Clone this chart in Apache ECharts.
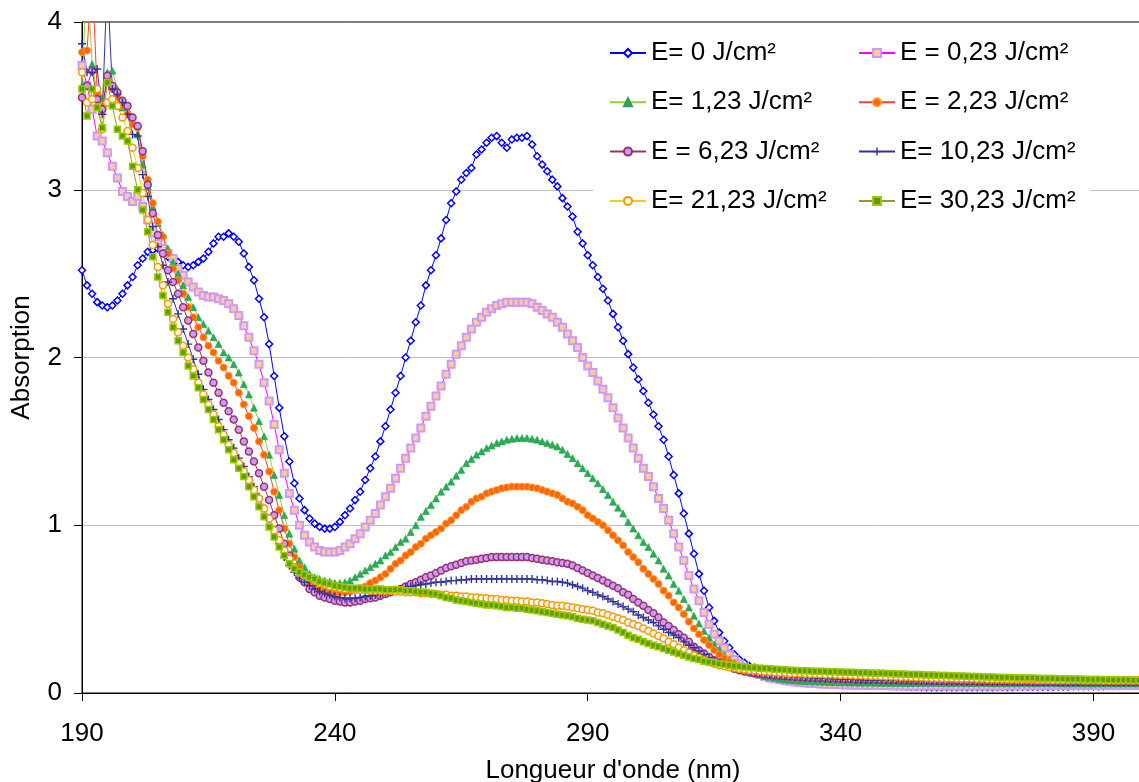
<!DOCTYPE html>
<html><head><meta charset="utf-8">
<script src="https://cdn.jsdelivr.net/npm/echarts@6/dist/echarts.min.js"></script>
<style>html,body{margin:0;padding:0;background:#fff}#chart{width:1139px;height:782px}</style>
</head><body><div id="chart"></div>
<script>
const START_NM = 190;
const X_TICKS = [190, 240, 290, 340, 390];
const Y_TICKS = [0, 1, 2, 3, 4];
const NAMES = ["E= 0 J/cm²", "E = 0,23 J/cm²", "E= 1,23 J/cm²", "E = 2,23 J/cm²",
               "E = 6,23 J/cm²", "E= 10,23 J/cm²", "E= 21,23 J/cm²", "E= 30,23 J/cm²"];

const E0 = [2.52,2.43,2.38,2.33,2.31,2.30,2.31,2.34,2.38,2.43,
 2.48,2.55,2.59,2.63,2.64,2.65,2.63,2.60,2.58,2.57,
 2.55,2.54,2.55,2.57,2.59,2.63,2.68,2.72,2.72,2.74,
 2.72,2.69,2.62,2.54,2.46,2.35,2.24,2.08,1.89,1.70,
 1.53,1.38,1.25,1.16,1.09,1.04,1.01,0.99,0.98,0.98,
 0.99,1.02,1.06,1.10,1.15,1.20,1.27,1.34,1.41,1.50,
 1.59,1.69,1.79,1.89,2.00,2.10,2.21,2.31,2.43,2.52,
 2.61,2.71,2.82,2.92,2.99,3.06,3.10,3.13,3.21,3.24,
 3.28,3.31,3.32,3.28,3.25,3.30,3.31,3.31,3.32,3.27,
 3.20,3.15,3.11,3.06,3.02,2.95,2.90,2.84,2.75,2.68,
 2.61,2.55,2.48,2.41,2.34,2.26,2.18,2.10,2.02,1.94,
 1.87,1.80,1.73,1.66,1.59,1.51,1.41,1.30,1.19,1.07,
 0.95,0.83,0.71,0.61,0.51,0.43,0.36,0.31,0.27,0.23,
 0.20,0.18,0.16,0.15,0.14,0.13,0.12,0.115,0.11,0.10,
 0.095,0.09,0.085,0.08,0.075,0.07,0.066,0.062,0.059,0.056,
 0.054,0.052,0.05,0.049,0.048,0.047,0.046,0.045,0.044,0.043,
 0.042,0.041,0.04,0.039,0.038,0.037,0.036,0.035,0.035,0.034,
 0.034,0.034,0.034,0.034,0.034,0.034,0.035,0.035,0.035,0.035,
 0.035,0.036,0.036,0.036,0.036,0.037,0.037,0.037,0.037,0.038,
 0.038,0.038,0.038,0.039,0.039,0.039,0.04,0.04,0.04,0.04,
 0.041,0.041,0.041,0.042,0.042,0.042,0.043,0.043,0.043,0.044,
 0.044];

const E023 = [3.74,3.62,3.48,3.32,3.29,3.22,3.14,3.07,2.99,2.96,
 2.93,2.96,2.90,2.82,2.74,2.68,2.65,2.62,2.59,2.53,
 2.49,2.45,2.42,2.39,2.37,2.36,2.36,2.35,2.34,2.32,
 2.29,2.25,2.19,2.12,2.04,1.96,1.85,1.74,1.60,1.45,
 1.31,1.19,1.09,1.00,0.94,0.90,0.87,0.85,0.84,0.84,
 0.84,0.85,0.87,0.89,0.92,0.95,0.99,1.03,1.07,1.12,
 1.17,1.22,1.28,1.34,1.40,1.46,1.52,1.58,1.65,1.71,
 1.77,1.83,1.90,1.96,2.02,2.07,2.12,2.17,2.21,2.24,
 2.27,2.29,2.31,2.32,2.33,2.33,2.33,2.33,2.33,2.32,
 2.30,2.28,2.26,2.24,2.21,2.18,2.14,2.10,2.06,2.00,
 1.95,1.91,1.86,1.81,1.76,1.70,1.64,1.58,1.52,1.46,
 1.40,1.34,1.29,1.23,1.16,1.10,1.03,0.95,0.87,0.79,
 0.70,0.62,0.55,0.48,0.41,0.35,0.31,0.27,0.23,0.20,
 0.175,0.155,0.135,0.12,0.11,0.10,0.09,0.085,0.08,0.075,
 0.07,0.066,0.063,0.06,0.058,0.056,0.054,0.052,0.051,0.05,
 0.049,0.048,0.047,0.046,0.046,0.045,0.045,0.044,0.044,0.044,
 0.043,0.043,0.043,0.042,0.042,0.042,0.042,0.042,0.042,0.042,
 0.042,0.042,0.042,0.042,0.042,0.042,0.042,0.042,0.042,0.042,
 0.042,0.042,0.042,0.043,0.043,0.043,0.043,0.043,0.043,0.043,
 0.044,0.044,0.044,0.044,0.044,0.044,0.044,0.044,0.044,0.044,
 0.045,0.045,0.045,0.045,0.045,0.045,0.045,0.045,0.045,0.045,
 0.045];

const E123 = [3.62,4.30,3.75,3.58,3.55,3.70,3.71,3.60,3.49,3.45,
 3.40,3.33,3.15,3.02,2.90,2.80,2.73,2.65,2.57,2.50,
 2.43,2.36,2.30,2.24,2.20,2.16,2.12,2.08,2.03,2.00,
 1.96,1.91,1.84,1.78,1.70,1.62,1.53,1.42,1.30,1.18,
 1.06,0.95,0.86,0.79,0.75,0.71,0.69,0.68,0.67,0.665,
 0.655,0.655,0.66,0.67,0.69,0.71,0.73,0.75,0.77,0.79,
 0.82,0.84,0.87,0.90,0.92,0.96,1.00,1.05,1.085,1.12,
 1.16,1.20,1.23,1.26,1.295,1.33,1.37,1.395,1.42,1.44,
 1.46,1.475,1.49,1.50,1.51,1.515,1.52,1.52,1.52,1.515,
 1.51,1.50,1.49,1.48,1.47,1.45,1.425,1.40,1.37,1.34,
 1.31,1.28,1.25,1.215,1.18,1.14,1.105,1.07,1.02,0.98,
 0.94,0.90,0.87,0.83,0.79,0.74,0.70,0.65,0.61,0.56,
 0.51,0.46,0.415,0.37,0.33,0.29,0.26,0.225,0.20,0.18,
 0.16,0.145,0.13,0.12,0.11,0.10,0.095,0.09,0.085,0.08,
 0.077,0.075,0.073,0.071,0.07,0.069,0.068,0.067,0.066,0.065,
 0.064,0.064,0.063,0.063,0.062,0.062,0.062,0.061,0.061,0.061,
 0.06,0.06,0.06,0.06,0.06,0.06,0.06,0.06,0.06,0.06,
 0.059,0.059,0.059,0.059,0.059,0.059,0.059,0.059,0.059,0.059,
 0.058,0.058,0.058,0.058,0.058,0.058,0.058,0.058,0.058,0.058,
 0.058,0.058,0.058,0.058,0.057,0.057,0.057,0.057,0.057,0.057,
 0.057,0.057,0.057,0.057,0.057,0.057,0.057,0.057,0.057,0.057,
 0.057];

const E223 = [3.82,3.83,4.30,3.58,3.50,3.64,3.60,3.55,3.50,3.45,
 3.39,3.37,3.20,3.06,2.92,2.81,2.72,2.62,2.53,2.46,
 2.38,2.30,2.24,2.18,2.12,2.07,2.03,1.98,1.94,1.89,
 1.85,1.79,1.72,1.65,1.58,1.50,1.42,1.32,1.20,1.09,
 0.98,0.89,0.81,0.75,0.70,0.66,0.64,0.62,0.61,0.60,
 0.60,0.60,0.60,0.605,0.615,0.625,0.635,0.655,0.67,0.69,
 0.71,0.74,0.77,0.79,0.82,0.84,0.87,0.89,0.92,0.94,
 0.96,0.98,1.01,1.03,1.06,1.09,1.11,1.14,1.16,1.17,
 1.19,1.20,1.21,1.22,1.225,1.23,1.23,1.23,1.23,1.225,
 1.22,1.21,1.20,1.19,1.18,1.16,1.14,1.13,1.11,1.09,
 1.06,1.04,1.02,1.00,0.97,0.94,0.91,0.88,0.84,0.81,
 0.78,0.74,0.71,0.68,0.65,0.61,0.58,0.54,0.51,0.47,
 0.425,0.385,0.35,0.316,0.286,0.256,0.23,0.207,0.187,0.17,
 0.155,0.145,0.135,0.127,0.12,0.115,0.11,0.106,0.103,0.10,
 0.098,0.096,0.095,0.094,0.093,0.092,0.091,0.09,0.09,0.089,
 0.088,0.088,0.087,0.087,0.086,0.086,0.086,0.085,0.085,0.085,
 0.084,0.084,0.084,0.084,0.083,0.083,0.083,0.083,0.083,0.082,
 0.082,0.082,0.082,0.082,0.082,0.081,0.081,0.081,0.081,0.081,
 0.081,0.081,0.081,0.08,0.08,0.08,0.08,0.08,0.08,0.08,
 0.08,0.08,0.08,0.08,0.08,0.08,0.08,0.08,0.08,0.08,
 0.08,0.08,0.08,0.08,0.08,0.08,0.08,0.08,0.08,0.08,
 0.08];

const E623 = [3.55,3.62,3.71,3.54,3.48,3.68,3.62,3.58,3.53,3.50,
 3.43,3.38,3.23,3.03,2.86,2.73,2.62,2.52,2.45,2.38,
 2.30,2.22,2.14,2.06,1.98,1.91,1.85,1.79,1.73,1.68,
 1.63,1.57,1.50,1.44,1.38,1.31,1.23,1.15,1.06,0.98,
 0.89,0.82,0.75,0.69,0.66,0.62,0.60,0.58,0.57,0.56,
 0.55,0.545,0.54,0.54,0.545,0.55,0.56,0.565,0.57,0.58,
 0.59,0.60,0.61,0.62,0.635,0.65,0.66,0.675,0.69,0.70,
 0.715,0.73,0.745,0.755,0.765,0.775,0.785,0.79,0.795,0.80,
 0.805,0.81,0.81,0.81,0.81,0.81,0.81,0.81,0.81,0.805,
 0.80,0.795,0.79,0.785,0.78,0.775,0.77,0.76,0.745,0.73,
 0.715,0.70,0.685,0.67,0.655,0.64,0.625,0.60,0.585,0.56,
 0.54,0.52,0.495,0.475,0.45,0.42,0.40,0.375,0.35,0.33,
 0.305,0.275,0.255,0.235,0.215,0.195,0.18,0.165,0.155,0.145,
 0.135,0.128,0.122,0.117,0.113,0.11,0.107,0.104,0.102,0.10,
 0.098,0.096,0.094,0.092,0.091,0.09,0.089,0.088,0.087,0.086,
 0.085,0.084,0.083,0.082,0.081,0.08,0.079,0.079,0.078,0.078,
 0.077,0.077,0.076,0.076,0.075,0.075,0.074,0.074,0.073,0.073,
 0.072,0.072,0.071,0.071,0.07,0.07,0.07,0.069,0.069,0.069,
 0.068,0.068,0.068,0.068,0.067,0.067,0.067,0.067,0.066,0.066,
 0.066,0.066,0.066,0.065,0.065,0.065,0.065,0.065,0.065,0.065,
 0.065,0.065,0.065,0.065,0.065,0.065,0.065,0.065,0.065,0.065,
 0.065];

const E1023 = [3.87,3.70,3.70,3.72,3.45,4.25,3.60,3.57,3.52,3.45,
 3.33,3.32,3.09,2.96,2.78,2.66,2.55,2.45,2.35,2.26,
 2.17,2.08,1.99,1.90,1.81,1.75,1.69,1.63,1.57,1.51,
 1.46,1.40,1.35,1.29,1.23,1.17,1.10,1.04,0.97,0.89,
 0.81,0.76,0.72,0.685,0.66,0.64,0.62,0.605,0.595,0.585,
 0.575,0.57,0.565,0.565,0.565,0.57,0.575,0.58,0.585,0.59,
 0.60,0.605,0.615,0.62,0.63,0.635,0.64,0.645,0.65,0.655,
 0.66,0.66,0.665,0.67,0.67,0.675,0.675,0.68,0.68,0.68,
 0.68,0.68,0.68,0.68,0.68,0.68,0.68,0.68,0.68,0.68,
 0.675,0.675,0.67,0.665,0.665,0.66,0.655,0.645,0.635,0.625,
 0.61,0.60,0.585,0.575,0.56,0.545,0.53,0.515,0.50,0.485,
 0.465,0.45,0.435,0.42,0.40,0.38,0.36,0.345,0.33,0.305,
 0.285,0.27,0.25,0.23,0.21,0.19,0.178,0.168,0.16,0.152,
 0.145,0.137,0.13,0.124,0.119,0.115,0.111,0.108,0.105,0.102,
 0.10,0.097,0.095,0.093,0.091,0.09,0.088,0.087,0.086,0.085,
 0.083,0.082,0.081,0.08,0.079,0.078,0.077,0.077,0.076,0.076,
 0.075,0.075,0.074,0.074,0.073,0.073,0.072,0.072,0.071,0.071,
 0.07,0.07,0.069,0.069,0.068,0.068,0.068,0.067,0.067,0.067,
 0.066,0.066,0.066,0.066,0.065,0.065,0.065,0.065,0.064,0.064,
 0.064,0.064,0.064,0.063,0.063,0.063,0.063,0.063,0.063,0.063,
 0.063,0.063,0.063,0.063,0.063,0.063,0.063,0.063,0.063,0.063,
 0.063];

const E2123 = [3.70,3.52,3.54,3.60,3.36,3.52,3.54,3.50,3.43,3.35,
 3.25,3.13,2.98,2.82,2.67,2.54,2.43,2.32,2.23,2.15,
 2.07,2.00,1.93,1.85,1.78,1.72,1.66,1.59,1.54,1.48,
 1.43,1.37,1.32,1.27,1.21,1.16,1.10,1.04,0.97,0.91,
 0.85,0.80,0.75,0.72,0.70,0.69,0.67,0.655,0.645,0.635,
 0.63,0.625,0.62,0.62,0.615,0.615,0.615,0.61,0.61,0.61,
 0.61,0.61,0.605,0.605,0.60,0.60,0.60,0.595,0.595,0.59,
 0.59,0.585,0.585,0.58,0.58,0.575,0.575,0.57,0.57,0.565,
 0.565,0.56,0.56,0.555,0.555,0.55,0.55,0.545,0.545,0.54,
 0.54,0.535,0.53,0.525,0.52,0.52,0.515,0.51,0.505,0.50,
 0.495,0.49,0.48,0.475,0.465,0.455,0.445,0.435,0.42,0.41,
 0.40,0.385,0.37,0.355,0.34,0.325,0.305,0.29,0.27,0.255,
 0.24,0.225,0.21,0.195,0.185,0.175,0.165,0.16,0.155,0.15,
 0.145,0.14,0.137,0.134,0.131,0.128,0.126,0.124,0.122,0.12,
 0.118,0.117,0.116,0.115,0.114,0.113,0.112,0.111,0.11,0.109,
 0.108,0.107,0.106,0.105,0.104,0.103,0.102,0.101,0.10,0.099,
 0.098,0.097,0.096,0.095,0.094,0.093,0.092,0.091,0.09,0.09,
 0.089,0.088,0.088,0.087,0.087,0.086,0.086,0.085,0.085,0.084,
 0.084,0.083,0.083,0.082,0.082,0.081,0.081,0.08,0.08,0.079,
 0.079,0.079,0.078,0.078,0.078,0.077,0.077,0.077,0.076,0.076,
 0.076,0.076,0.075,0.075,0.075,0.075,0.075,0.075,0.075,0.075,
 0.075];

const E3023 = [3.60,3.44,3.60,3.49,3.37,3.64,3.50,3.36,3.32,3.29,
 3.14,3.00,2.88,2.75,2.60,2.48,2.37,2.27,2.18,2.10,
 2.03,1.95,1.89,1.82,1.75,1.69,1.63,1.57,1.51,1.45,
 1.39,1.34,1.29,1.23,1.17,1.11,1.05,0.99,0.93,0.87,
 0.82,0.77,0.74,0.72,0.705,0.69,0.68,0.665,0.655,0.65,
 0.64,0.635,0.63,0.625,0.625,0.625,0.62,0.62,0.62,0.62,
 0.615,0.615,0.615,0.615,0.61,0.61,0.605,0.60,0.60,0.595,
 0.59,0.58,0.57,0.565,0.555,0.55,0.545,0.54,0.535,0.53,
 0.525,0.525,0.52,0.515,0.51,0.51,0.505,0.505,0.50,0.495,
 0.49,0.485,0.48,0.475,0.47,0.465,0.46,0.455,0.445,0.44,
 0.435,0.43,0.42,0.41,0.40,0.39,0.375,0.36,0.345,0.33,
 0.32,0.305,0.295,0.285,0.275,0.265,0.255,0.245,0.235,0.225,
 0.215,0.205,0.20,0.19,0.185,0.18,0.175,0.17,0.165,0.16,
 0.158,0.155,0.152,0.15,0.148,0.146,0.144,0.142,0.14,0.138,
 0.136,0.134,0.133,0.132,0.131,0.13,0.129,0.128,0.127,0.126,
 0.125,0.124,0.123,0.122,0.121,0.12,0.119,0.118,0.117,0.116,
 0.115,0.114,0.113,0.112,0.111,0.11,0.109,0.108,0.107,0.106,
 0.105,0.104,0.103,0.102,0.101,0.10,0.099,0.098,0.097,0.096,
 0.095,0.094,0.093,0.092,0.091,0.09,0.09,0.089,0.089,0.088,
 0.087,0.087,0.086,0.085,0.085,0.084,0.083,0.083,0.082,0.081,
 0.081,0.08,0.079,0.079,0.078,0.078,0.077,0.077,0.076,0.076,
 0.075];

const WAVELENGTHS = E0.map((_, i) => START_NM + i);
const FONT = '"Liberation Sans", Arial, sans-serif';
const FS = 26;
const PLUS = 'path://M3.3,0H4.7V3.3H8V4.7H4.7V8H3.3V4.7H0V3.3H3.3Z';

function mk(name, vals, line, symbol, size, itemStyle) {
  return {
    name: name, type: 'line',
    data: vals.map((v, i) => [WAVELENGTHS[i], v]),
    symbol: symbol, symbolSize: size, showSymbol: true,
    lineStyle: { color: line, width: 1 },
    itemStyle: itemStyle,
    clip: true, animation: false, emphasis: { disabled: true }
  };
}

const series = [
  mk(NAMES[0], E0, '#0000FF', 'diamond', 7, { color: '#FFFFFF', borderColor: '#0000FF', borderWidth: 1.5 }),
  mk(NAMES[1], E023, '#FF00FF', 'rect', 7, { color: '#FFCC99', borderColor: '#CC99FF', borderWidth: 2 }),
  mk(NAMES[2], E123, '#99CC33', 'triangle', 7, { color: '#22B14C', borderColor: '#339966', borderWidth: 0.6 }),
  mk(NAMES[3], E223, '#FF3B3B', 'circle', 7, { color: '#FF6600', borderColor: '#FF9933', borderWidth: 1 }),
  mk(NAMES[4], E623, '#993366', 'circle', 7, { color: '#CC99FF', borderColor: '#993366', borderWidth: 1.5 }),
  mk(NAMES[5], E1023, '#333399', PLUS, 8, { color: '#333399' }),
  mk(NAMES[6], E2123, '#FFCC00', 'circle', 7, { color: '#FFFFFF', borderColor: '#FF9900', borderWidth: 1.5 }),
  mk(NAMES[7], E3023, '#999933', 'rect', 6, { color: '#669900', borderColor: '#99CC00', borderWidth: 1.5 })
];

const legendCommon = {
  orient: 'vertical', itemWidth: 36, itemHeight: 10, itemGap: 23.3,
  textStyle: { fontSize: FS, fontFamily: FONT, color: '#000', lineHeight: 26 },
  padding: 0, selectedMode: false
};

const chart = echarts.init(document.getElementById('chart'), null, { renderer: 'canvas' });
chart.setOption({
  animation: false,
  backgroundColor: '#fff',
  textStyle: { fontFamily: FONT },
  grid: { left: 82, right: -5, top: 22, bottom: 89, containLabel: false, outerBoundsMode: 'none',
          show: true, borderColor: '#000', borderWidth: 1, backgroundColor: 'transparent' },
  graphic: [{ type: 'rect', left: 593, top: 28, shape: { width: 497, height: 197 }, style: { fill: '#fff' }, z: 1, silent: true }],
  legend: [
    Object.assign({ left: 609, top: 40, data: [NAMES[0], NAMES[2], NAMES[4], NAMES[6]] }, legendCommon),
    Object.assign({ left: 858, top: 40, data: [NAMES[1], NAMES[3], NAMES[5], NAMES[7]] }, legendCommon)
  ],
  xAxis: {
    type: 'value', min: 190, max: 400,
    axisLine: { show: true, lineStyle: { color: '#000', width: 1 } },
    axisTick: { show: true, length: 8, inside: false, customValues: X_TICKS, lineStyle: { color: '#000' } },
    axisLabel: { customValues: X_TICKS, fontSize: FS, color: '#000', margin: 28, fontFamily: FONT },
    splitLine: { show: false },
    name: "Longueur d'onde (nm)", nameLocation: 'middle', nameGap: 65,
    nameTextStyle: { fontSize: FS, color: '#000', fontFamily: FONT }
  },
  yAxis: {
    type: 'value', min: 0, max: 4, interval: 1,
    axisLine: { show: true, lineStyle: { color: '#000', width: 1 } },
    axisTick: { show: true, length: 8, inside: false, lineStyle: { color: '#000' } },
    axisLabel: { fontSize: FS, color: '#000', margin: 20, fontFamily: FONT,
      formatter: v => (Y_TICKS.indexOf(v) >= 0 ? String(v) : '') },
    splitLine: { show: true, showMinLine: false, showMaxLine: false, lineStyle: { color: '#BFBFBF', width: 1 } },
    name: 'Absorption', nameLocation: 'middle', nameGap: 47, nameRotate: 90,
    nameTextStyle: { fontSize: FS, color: '#000', fontFamily: FONT }
  },
  series: series
});
</script>
</body></html>
